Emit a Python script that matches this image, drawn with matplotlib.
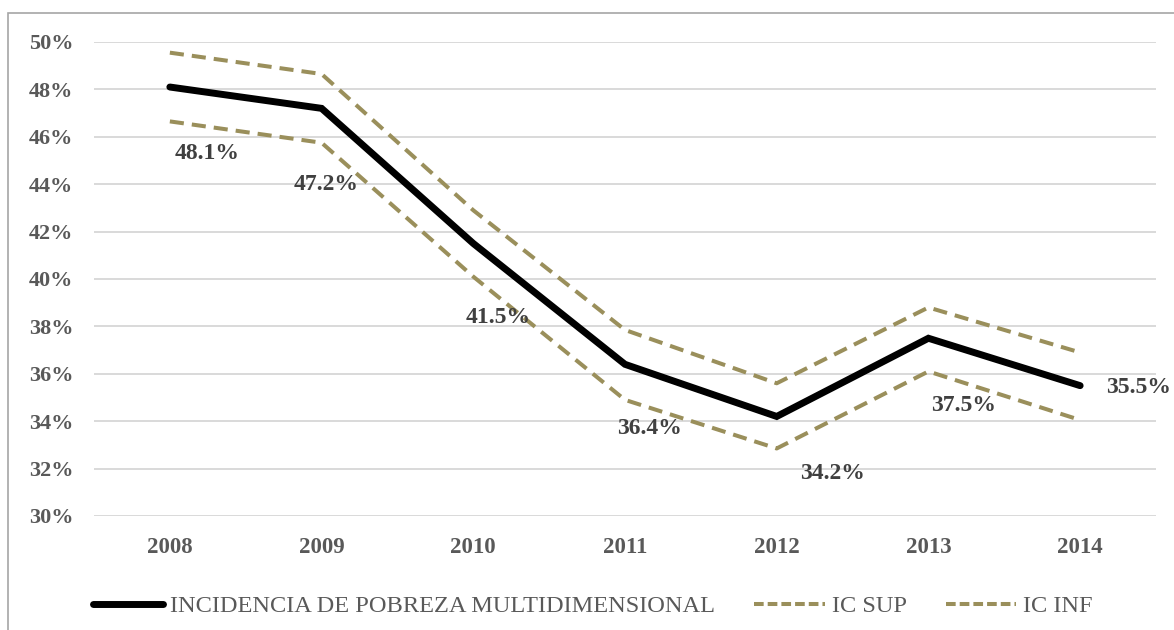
import matplotlib
matplotlib.use("Agg")
import matplotlib.pyplot as plt
from matplotlib.patches import Rectangle
from matplotlib.lines import Line2D
from matplotlib.ticker import FuncFormatter

years = ["2008", "2009", "2010", "2011", "2012", "2013", "2014"]
incidencia = [48.1, 47.2, 41.5, 36.4, 34.2, 37.5, 35.5]
ic_sup = [49.55, 48.65, 42.9, 37.85, 35.6, 38.8, 36.9]
ic_inf = [46.65, 45.75, 40.1, 34.9, 32.85, 36.1, 34.05]
y_ticks = [30, 32, 34, 36, 38, 40, 42, 44, 46, 48, 50]

# label offsets in pixels (dx, dy) relative to each point
label_offsets = [(37, -66), (5, -76), (25, -74), (24, -64), (56, -57), (35, -67), (58, -2)]

plt.rcParams['font.family'] = ['Liberation Serif', 'DejaVu Serif']

W, H = 1174, 630
fig = plt.figure(figsize=(W / 100, H / 100), dpi=100)
fig.patch.set_facecolor('white')

# outer frame
fig.patches.append(Rectangle((8 / W, -0.1), 1.2, (H - 13) / H + 0.1, transform=fig.transFigure,
                             fill=False, edgecolor='#A6A6A6', linewidth=1.2))

ax = fig.add_axes([94 / W, (H - 516) / H, 1062 / W, 474 / H])
ax.set_facecolor('none')
x = list(range(len(years)))

grid_color = '#D9D9D9'
for t in y_ticks:
    ax.axhline(t, color=grid_color, linewidth=1.4, zorder=0)

olive = '#9A8F5B'
ax.plot(x, ic_sup, color=olive, linewidth=2.9, dashes=(3.5, 2.0), zorder=2)
ax.plot(x, ic_inf, color=olive, linewidth=2.9, dashes=(3.5, 2.0), zorder=2)
ax.plot(x, incidencia, color='black', linewidth=5, solid_capstyle='round',
        solid_joinstyle='miter', zorder=3)

for xi, v, (dx, dy) in zip(x, incidencia, label_offsets):
    ax.annotate(f"{v:.1f}%", xy=(xi, v), xytext=(dx * 0.72, dy * 0.72), textcoords='offset points',
                ha='center', va='center', fontsize=17, fontweight='bold', color='#404040')

ax.set_xlim(-0.5, len(years) - 0.5)
ax.set_ylim(30, 50)
ax.set_xticks(x)
ax.set_xticklabels(years)
ax.set_yticks(y_ticks)
ax.yaxis.set_major_formatter(FuncFormatter(lambda v, p: f"{v:.0f}%"))
for s in ax.spines.values():
    s.set_visible(False)
ax.tick_params(axis='both', length=0, labelcolor='#595959')
ax.tick_params(axis='y', pad=15, labelsize=16)
ax.tick_params(axis='x', pad=15, labelsize=16.5)
for lab in ax.get_xticklabels() + ax.get_yticklabels():
    lab.set_fontweight('bold')

h_main = Line2D([], [], color='black', linewidth=5, solid_capstyle='round')
h_sup = Line2D([], [], color=olive, linewidth=2.9, dashes=(2.4, 1.0))
h_inf = Line2D([], [], color=olive, linewidth=2.9, dashes=(2.4, 1.0))
leg = fig.legend(handles=[h_main, h_sup, h_inf],
                 labels=['INCIDENCIA DE POBREZA MULTIDIMENSIONAL', 'IC SUP', 'IC INF'],
                 loc='center left', bbox_to_anchor=(93 / W, (H - 606) / H),
                 ncol=3, frameon=False, fontsize=17.6, handlelength=2.87, columnspacing=1.6,
                 handletextpad=0.29, borderpad=0, borderaxespad=0)
for t in leg.get_texts():
    t.set_color('#595959')

fig.savefig('out.png', dpi=100, facecolor='white')
